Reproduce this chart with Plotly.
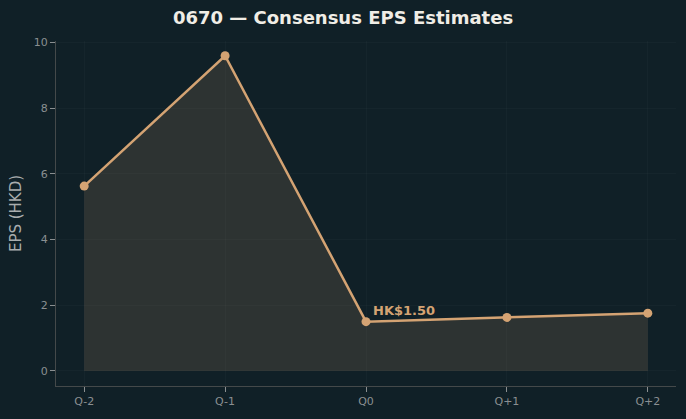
import plotly.graph_objects as go

quarters = ["Q-2", "Q-1", "Q0", "Q+1", "Q+2"]
eps = [5.63, 9.6, 1.50, 1.63, 1.76]
y_ticks = [0, 2, 4, 6, 8, 10]

line_color = "#d4a373"
bg = "#102027"

fig = go.Figure()
fig.add_trace(go.Scatter(
    x=quarters, y=eps, mode="lines+markers",
    line=dict(color=line_color, width=2.5),
    marker=dict(size=9, color=line_color),
    fill="tozeroy", fillcolor="rgba(212,163,115,0.15)",
    hoverinfo="skip", showlegend=False,
))

fig.add_annotation(
    x=quarters[2], y=eps[2], text="HK$1.50", showarrow=False,
    xanchor="left", yanchor="bottom", xshift=5, yshift=2,
    font=dict(family="DejaVu Sans", size=13, color=line_color, weight="bold"),
)

fig.update_layout(
    width=686, height=419,
    paper_bgcolor=bg, plot_bgcolor=bg,
    margin=dict(l=56, r=10, t=41, b=33),
    title=dict(text="<b>0670 — Consensus EPS Estimates</b>", x=0.5, xanchor="center",
               y=1 - 18 / 419, yanchor="middle",
               font=dict(family="DejaVu Sans", size=18, color="#f0ede6")),
    font=dict(family="DejaVu Sans", color="#8a8f91", size=11),
    xaxis=dict(range=[-0.2, 4.2], showgrid=True, gridcolor="rgba(255,255,255,0.025)",
               showline=True, linecolor="#44494a", ticks="outside", ticklen=5,
               tickcolor="#8a8f91", zeroline=False,
               tickfont=dict(size=11, color="#8a8f91")),
    yaxis=dict(range=[-0.46, 10.05], tickvals=y_ticks, showgrid=True,
               gridcolor="rgba(255,255,255,0.025)",
               showline=True, linecolor="#44494a", ticks="outside", ticklen=5,
               tickcolor="#8a8f91", zeroline=False,
               title=dict(text="EPS (HKD)", font=dict(size=15, color="#a9adae"), standoff=8),
               tickfont=dict(size=11, color="#8a8f91")),
)

fig.write_html("out.html")
